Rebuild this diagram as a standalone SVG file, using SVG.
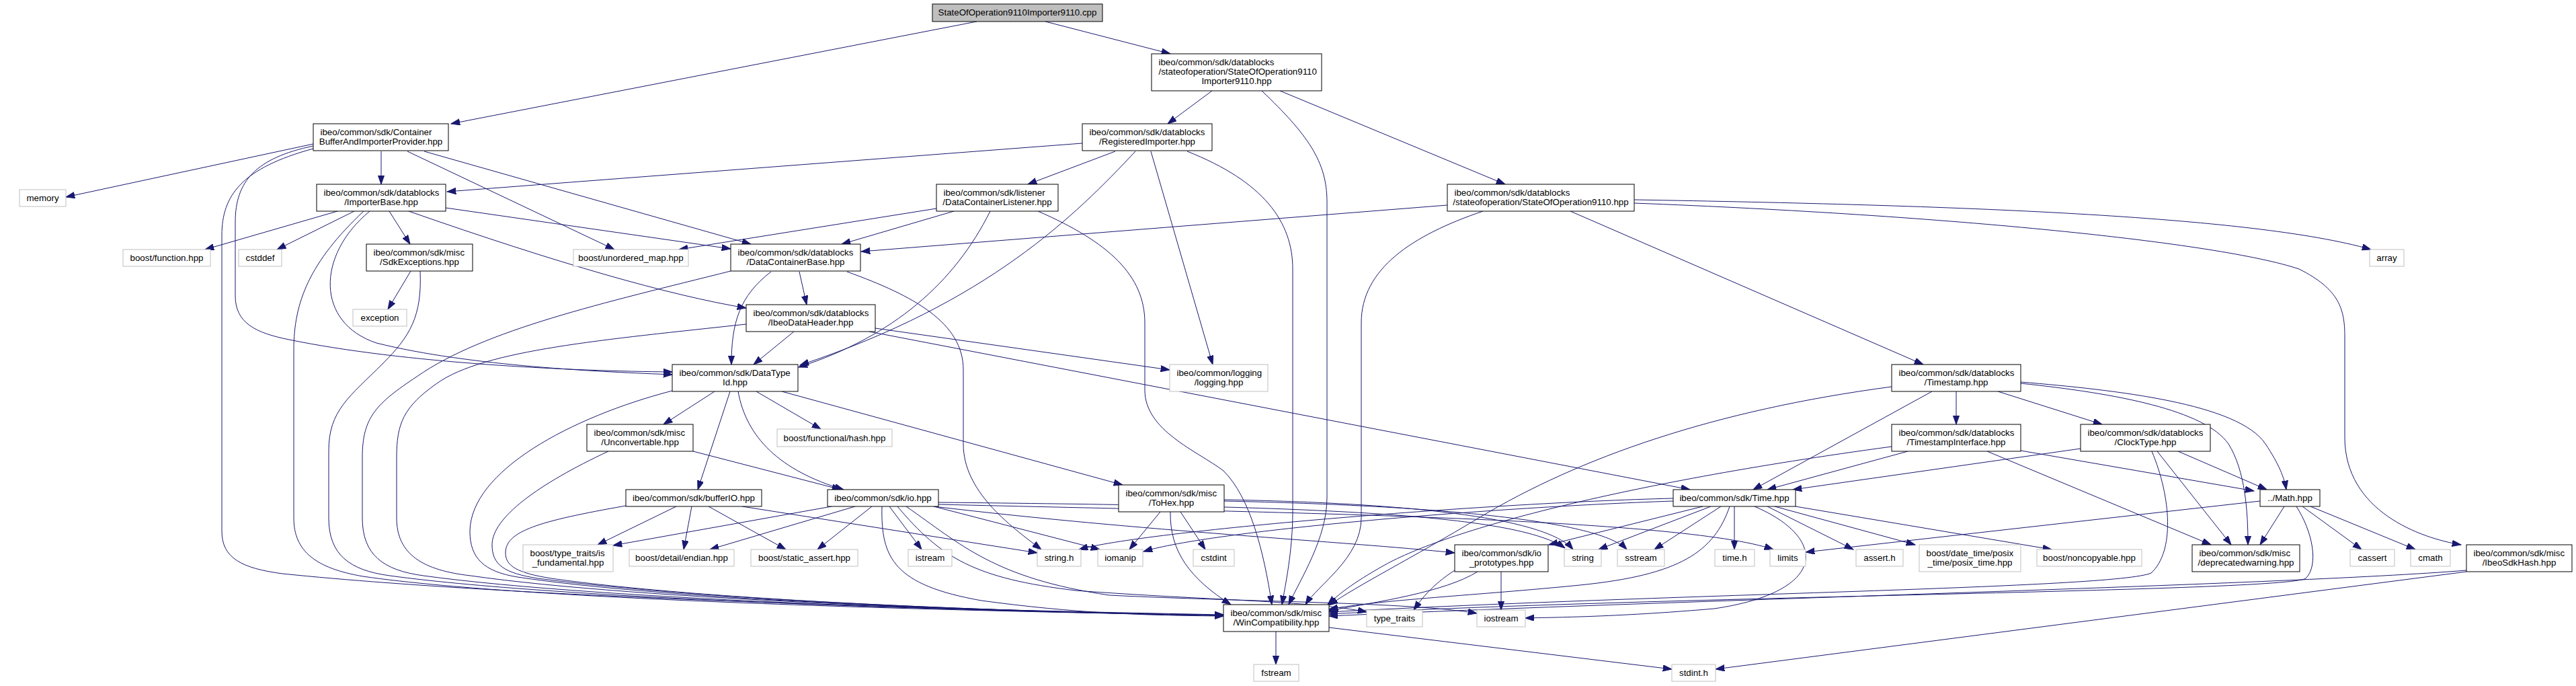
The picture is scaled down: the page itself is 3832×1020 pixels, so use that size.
<svg xmlns="http://www.w3.org/2000/svg" width="3832" height="1020" viewBox="0 0 3832 1020">
<style>
text{font-family:"Liberation Sans",Arial,Helvetica,sans-serif;font-size:13.33px;fill:#000}
.n rect{fill:#fff;stroke:#000;stroke-width:1}
.x rect{fill:#fff;stroke:#bfbfbf;stroke-width:1}
.m{text-anchor:middle}
#edges path{fill:none;stroke:#191970;stroke-width:1;marker-end:url(#a)}
</style>
<defs>
<marker id="a" markerUnits="userSpaceOnUse" markerWidth="14" markerHeight="10" refX="13.3" refY="4.7" orient="auto"><path d="M0,0 L13.3,4.7 L0,9.4 z" fill="#191970" stroke="#191970"/></marker>
</defs>
<rect width="3832" height="1020" fill="#fff"/>
<g id="edges">
<path d="M1453,32 L671,184"/>
<path d="M1555,32 L1741,80"/>
<path d="M1803,135 L1737,184"/>
<path d="M1904,135 L2239,274"/>
<path d="M1877,135 C1945,200 1974,240 1974,300 L1974,740 C1974,800 1935,860 1917,899"/>
<path d="M1610,213 L665,285"/>
<path d="M1659,225 L1529,274"/>
<path d="M1689,225 C1600,320 1470,450 1190,543"/>
<path d="M1712,225 L1804,542"/>
<path d="M1766,225 C1880,270 1923,330 1923,400 L1923,760 C1923,820 1912,870 1907,899"/>
<path d="M567,225 L567,274"/>
<path d="M606,225 L914,371"/>
<path d="M631,225 L1117,363"/>
<path d="M466,214 L98,293"/>
<path d="M466,217 C380,235 350,270 350,330 L350,440 C350,480 380,495 430,505 C600,540 850,552 1000,553"/>
<path d="M466,221 C360,250 330,290 330,350 L330,790 C330,830 360,845 420,853 C800,892 1500,908 1820,914"/>
<path d="M663,309 L1087,370"/>
<path d="M608,314 Q940,430 1110,458"/>
<path d="M579,314 L610,363"/>
<path d="M527,314 L412,371"/>
<path d="M502,314 L305,371"/>
<path d="M550,314 C470,380 470,480 560,510 C700,545 900,553 1000,557"/>
<path d="M541,314 C460,390 437,450 437,520 L437,770 C437,820 470,845 540,857 C800,895 1500,910 1820,915"/>
<path d="M625,403 C628,470 610,500 570,540 C520,590 489,610 489,670 L489,770 C489,825 520,848 580,856 C850,893 1500,910 1820,915"/>
<path d="M611,403 L577,460"/>
<path d="M1087,403 C900,450 720,490 620,560 C560,600 539,620 539,680 L539,770 C539,825 570,848 630,856 C900,893 1500,910 1820,915"/>
<path d="M1110,482 C900,505 720,520 650,570 C600,605 590,630 590,680 L590,770 C590,825 630,848 700,856 C950,892 1500,910 1820,915"/>
<path d="M1393,310 L1010,371"/>
<path d="M1419,314 L1252,363"/>
<path d="M1544,314 C1650,360 1703,410 1703,480 L1703,580 C1703,640 1780,670 1820,700 C1860,740 1880,820 1892,899"/>
<path d="M1473,314 C1420,420 1330,500 1188,546"/>
<path d="M1189,404 L1200,453"/>
<path d="M1147,404 C1100,440 1088,480 1088,542"/>
<path d="M1260,404 C1360,440 1433,480 1433,550 L1433,660 C1433,730 1500,780 1549,817"/>
<path d="M1181,493 L1121,542"/>
<path d="M1302,488 L1740,550"/>
<path d="M1293,493 L2514,728"/>
<path d="M1063,582 L987,631"/>
<path d="M1086,582 L1038,728"/>
<path d="M1098,582 C1110,650 1160,700 1255,728"/>
<path d="M1125,582 L1221,638"/>
<path d="M1163,582 L1670,721"/>
<path d="M1000,581 C850,620 700,700 699,790 C699,830 720,850 770,858 C1000,893 1500,910 1820,915"/>
<path d="M1031,671 L1251,728"/>
<path d="M905,671 C800,720 732,770 732,810 C732,840 750,852 800,860 C1050,893 1500,910 1820,915"/>
<path d="M931,752 C800,775 752,790 752,822 C752,842 770,852 820,860 C1050,893 1500,910 1820,915"/>
<path d="M1006,753 L889,810"/>
<path d="M1029,753 L1017,817"/>
<path d="M1054,753 L1169,817"/>
<path d="M1104,753 L1543,822"/>
<path d="M1237,753 L912,811"/>
<path d="M1272,753 L1056,817"/>
<path d="M1297,753 L1216,817"/>
<path d="M1323,753 L1371,817"/>
<path d="M1312,753 C1310,830 1330,870 1460,893 C1600,912 1700,915 1820,916"/>
<path d="M1335,753 C1400,830 1450,860 1600,878 C1800,893 1950,893 2033,910"/>
<path d="M1348,753 C1430,810 1480,860 1650,885 C1850,895 2100,895 2197,912"/>
<path d="M1389,753 L1636,817"/>
<path d="M1396,747 C1900,752 2250,760 2328,815"/>
<path d="M1396,750 C1900,762 2500,770 2638,817"/>
<path d="M1389,753 C1700,790 2000,805 2164,822"/>
<path d="M1726,761 L1680,817"/>
<path d="M1756,761 L1793,817"/>
<path d="M1741,761 C1740,820 1770,860 1831,899"/>
<path d="M1821,743 C2100,748 2300,770 2340,817"/>
<path d="M1821,745 C2150,752 2380,775 2420,817"/>
<path d="M2533,753 L2304,810"/>
<path d="M2545,753 L2378,817"/>
<path d="M2560,753 L2461,817"/>
<path d="M2580,753 L2580,817"/>
<path d="M2629,753 L2757,817"/>
<path d="M2640,753 L2849,810"/>
<path d="M2671,753 L3052,817"/>
<path d="M2573,753 C2550,820 2500,855 2350,870 C2200,885 2050,892 1977,906"/>
<path d="M2610,753 C2720,800 2720,880 2550,905 C2400,918 2300,918 2269,919"/>
<path d="M2489,745 C2200,755 1800,790 1701,820"/>
<path d="M2489,741 C2200,748 1700,790 1605,817"/>
<path d="M2910,582 L2910,631"/>
<path d="M2972,582 L3127,631"/>
<path d="M2874,582 L2608,728"/>
<path d="M2814,575 C2550,610 2350,680 2200,770 C2100,830 2020,870 1977,900"/>
<path d="M3006,568 C3150,580 3330,600 3370,660 C3390,690 3398,710 3401,728"/>
<path d="M3006,570 C3150,585 3280,610 3315,660 C3340,700 3344,760 3344,810"/>
<path d="M2838,671 L2629,728"/>
<path d="M2956,671 L3289,810"/>
<path d="M3006,670 L3353,730"/>
<path d="M2814,664 C2400,720 2150,790 2060,840 C2010,868 1990,885 1975,899"/>
<path d="M3095,667 L2667,728"/>
<path d="M3240,671 L3372,728"/>
<path d="M3209,671 L3319,810"/>
<path d="M3201,671 C3230,740 3235,820 3200,852 C3150,875 2500,882 1977,910"/>
<path d="M3398,753 L3362,810"/>
<path d="M3425,753 L3513,817"/>
<path d="M3437,753 L3593,817"/>
<path d="M3362,745 L2686,821"/>
<path d="M3416,753 C3440,790 3450,840 3430,860 C3400,880 2500,885 1977,913"/>
<path d="M3669,848 C3400,870 2500,892 1977,916"/>
<path d="M3669,850 L2552,995"/>
<path d="M2153,305 L1281,374"/>
<path d="M2206,314 C2100,350 2025,400 2025,480 L2025,770 C2025,830 1960,870 1942,899"/>
<path d="M2336,314 L2861,542"/>
<path d="M2431,297 C2900,305 3350,320 3527,371"/>
<path d="M2431,302 C2900,320 3300,360 3420,400 C3480,430 3488,460 3488,500 L3488,650 C3488,760 3600,800 3661,810"/>
<path d="M2164,848 C2130,870 2115,890 2103,907"/>
<path d="M2198,850 C2150,880 2050,895 1977,908"/>
<path d="M2233,850 L2233,907"/>
<path d="M1898,939 L1898,988"/>
<path d="M1977,933 L2487,995"/>
</g>
<g id="n_root" class="n"><rect x="1387" y="6" width="253" height="26" style="fill:#bfbfbf"/><text class="m" x="1513.5" y="23">StateOfOperation9110Importer9110.cpp</text></g>
<g id="n_container" class="n"><rect x="466" y="184" width="201" height="40"/><text x="476.5" y="201">ibeo/common/sdk/Container</text><text class="m" x="566.5" y="215">BufferAndImporterProvider.hpp</text></g>
<g id="n_importer9110" class="n"><rect x="1713" y="80" width="253" height="55"/><text x="1723.5" y="97">ibeo/common/sdk/datablocks</text><text x="1723.5" y="111">/stateofoperation/StateOfOperation9110</text><text class="m" x="1839.5" y="125">Importer9110.hpp</text></g>
<g id="n_registered" class="n"><rect x="1610" y="184" width="193" height="40"/><text x="1620.5" y="201">ibeo/common/sdk/datablocks</text><text class="m" x="1706.5" y="215">/RegisteredImporter.hpp</text></g>
<g id="n_importerbase" class="n"><rect x="471" y="274" width="192" height="40"/><text x="481.5" y="291">ibeo/common/sdk/datablocks</text><text class="m" x="567" y="305">/ImporterBase.hpp</text></g>
<g id="n_listener" class="n"><rect x="1393" y="274" width="181" height="40"/><text x="1403.5" y="291">ibeo/common/sdk/listener</text><text class="m" x="1483.5" y="305">/DataContainerListener.hpp</text></g>
<g id="n_sop9110" class="n"><rect x="2153" y="274" width="278" height="40"/><text x="2163.5" y="291">ibeo/common/sdk/datablocks</text><text class="m" x="2292" y="305">/stateofoperation/StateOfOperation9110.hpp</text></g>
<g id="n_memory" class="x"><rect x="29" y="282" width="69" height="25"/><text class="m" x="63.5" y="299">memory</text></g>
<g id="n_function" class="x"><rect x="183" y="371" width="130" height="25"/><text class="m" x="248" y="388">boost/function.hpp</text></g>
<g id="n_cstddef" class="x"><rect x="355" y="371" width="64" height="25"/><text class="m" x="387" y="388">cstddef</text></g>
<g id="n_sdkexceptions" class="n"><rect x="545" y="363" width="158" height="40"/><text x="555.5" y="380">ibeo/common/sdk/misc</text><text class="m" x="624" y="394">/SdkExceptions.hpp</text></g>
<g id="n_unordered_map" class="x"><rect x="853" y="371" width="171" height="25"/><text class="m" x="938.5" y="388">boost/unordered_map.hpp</text></g>
<g id="n_dcbase" class="n"><rect x="1087" y="363" width="193" height="40"/><text x="1097.5" y="380">ibeo/common/sdk/datablocks</text><text class="m" x="1183.5" y="394">/DataContainerBase.hpp</text></g>
<g id="n_array" class="x"><rect x="3525" y="371" width="51" height="25"/><text class="m" x="3550.5" y="388">array</text></g>
<g id="n_exception" class="x"><rect x="525" y="460" width="80" height="25"/><text class="m" x="565" y="477">exception</text></g>
<g id="n_ibeodataheader" class="n"><rect x="1110" y="453" width="192" height="40"/><text x="1120.5" y="470">ibeo/common/sdk/datablocks</text><text class="m" x="1206" y="484">/IbeoDataHeader.hpp</text></g>
<g id="n_datatypeid" class="n"><rect x="1000" y="542" width="187" height="40"/><text x="1010.5" y="559">ibeo/common/sdk/DataType</text><text class="m" x="1093.5" y="573">Id.hpp</text></g>
<g id="n_logging" class="x"><rect x="1740" y="542" width="146" height="40"/><text x="1750.5" y="559">ibeo/common/logging</text><text class="m" x="1813" y="573">/logging.hpp</text></g>
<g id="n_timestamp" class="n"><rect x="2814" y="542" width="192" height="40"/><text x="2824.5" y="559">ibeo/common/sdk/datablocks</text><text class="m" x="2910" y="573">/Timestamp.hpp</text></g>
<g id="n_unconvertable" class="n"><rect x="873" y="631" width="158" height="40"/><text x="883.5" y="648">ibeo/common/sdk/misc</text><text class="m" x="952" y="662">/Unconvertable.hpp</text></g>
<g id="n_hash" class="x"><rect x="1156" y="638" width="171" height="26"/><text class="m" x="1241.5" y="655.5">boost/functional/hash.hpp</text></g>
<g id="n_tsinterface" class="n"><rect x="2814" y="631" width="192" height="40"/><text x="2824.5" y="648">ibeo/common/sdk/datablocks</text><text class="m" x="2910" y="662">/TimestampInterface.hpp</text></g>
<g id="n_clocktype" class="n"><rect x="3095" y="631" width="193" height="40"/><text x="3105.5" y="648">ibeo/common/sdk/datablocks</text><text class="m" x="3191.5" y="662">/ClockType.hpp</text></g>
<g id="n_bufferio" class="n"><rect x="931" y="728" width="202" height="25"/><text class="m" x="1032" y="745">ibeo/common/sdk/bufferIO.hpp</text></g>
<g id="n_io" class="n"><rect x="1231" y="728" width="165" height="25"/><text class="m" x="1313.5" y="745">ibeo/common/sdk/io.hpp</text></g>
<g id="n_tohex" class="n"><rect x="1664" y="721" width="157" height="40"/><text x="1674.5" y="738">ibeo/common/sdk/misc</text><text class="m" x="1742.5" y="752">/ToHex.hpp</text></g>
<g id="n_time" class="n"><rect x="2489" y="728" width="182" height="25"/><text class="m" x="2580" y="745">ibeo/common/sdk/Time.hpp</text></g>
<g id="n_math" class="n"><rect x="3362" y="728" width="89" height="25"/><text class="m" x="3406.5" y="745">../Math.hpp</text></g>
<g id="n_isfundamental" class="x"><rect x="778" y="810" width="134" height="40"/><text x="788.5" y="827">boost/type_traits/is</text><text class="m" x="845" y="841">_fundamental.hpp</text></g>
<g id="n_endian" class="x"><rect x="936" y="817" width="156" height="25"/><text class="m" x="1014" y="834">boost/detail/endian.hpp</text></g>
<g id="n_staticassert" class="x"><rect x="1117" y="817" width="159" height="25"/><text class="m" x="1196.5" y="834">boost/static_assert.hpp</text></g>
<g id="n_istream" class="x"><rect x="1351" y="817" width="65" height="25"/><text class="m" x="1383.5" y="834">istream</text></g>
<g id="n_stringh" class="x"><rect x="1543" y="817" width="65" height="25"/><text class="m" x="1575.5" y="834">string.h</text></g>
<g id="n_iomanip" class="x"><rect x="1633" y="817" width="67" height="25"/><text class="m" x="1666.5" y="834">iomanip</text></g>
<g id="n_cstdint" class="x"><rect x="1775" y="817" width="61" height="25"/><text class="m" x="1805.5" y="834">cstdint</text></g>
<g id="n_ioprototypes" class="n"><rect x="2164" y="810" width="139" height="40"/><text x="2174.5" y="827">ibeo/common/sdk/io</text><text class="m" x="2233.5" y="841">_prototypes.hpp</text></g>
<g id="n_string" class="x"><rect x="2327" y="817" width="55" height="25"/><text class="m" x="2354.5" y="834">string</text></g>
<g id="n_sstream" class="x"><rect x="2406" y="817" width="70" height="25"/><text class="m" x="2441" y="834">sstream</text></g>
<g id="n_timeh" class="x"><rect x="2551" y="817" width="59" height="25"/><text class="m" x="2580.5" y="834">time.h</text></g>
<g id="n_limits" class="x"><rect x="2633" y="817" width="53" height="25"/><text class="m" x="2659.5" y="834">limits</text></g>
<g id="n_asserth" class="x"><rect x="2761" y="817" width="70" height="25"/><text class="m" x="2796" y="834">assert.h</text></g>
<g id="n_posixtime" class="x"><rect x="2855" y="810" width="151" height="40"/><text x="2865.5" y="827">boost/date_time/posix</text><text class="m" x="2930.5" y="841">_time/posix_time.hpp</text></g>
<g id="n_noncopyable" class="x"><rect x="3030" y="817" width="156" height="25"/><text class="m" x="3108" y="834">boost/noncopyable.hpp</text></g>
<g id="n_deprecated" class="n"><rect x="3261" y="810" width="160" height="40"/><text x="3271.5" y="827">ibeo/common/sdk/misc</text><text class="m" x="3341" y="841">/deprecatedwarning.hpp</text></g>
<g id="n_cassert" class="x"><rect x="3496" y="817" width="66" height="25"/><text class="m" x="3529" y="834">cassert</text></g>
<g id="n_cmath" class="x"><rect x="3586" y="817" width="59" height="25"/><text class="m" x="3615.5" y="834">cmath</text></g>
<g id="n_ibeosdkhash" class="n"><rect x="3669" y="810" width="157" height="40"/><text x="3679.5" y="827">ibeo/common/sdk/misc</text><text class="m" x="3747.5" y="841">/IbeoSdkHash.hpp</text></g>
<g id="n_wincompat" class="n"><rect x="1820" y="899" width="157" height="40"/><text x="1830.5" y="916">ibeo/common/sdk/misc</text><text class="m" x="1898.5" y="930">/WinCompatibility.hpp</text></g>
<g id="n_typetraits" class="x"><rect x="2033" y="907" width="83" height="25"/><text class="m" x="2074.5" y="924">type_traits</text></g>
<g id="n_iostream" class="x"><rect x="2197" y="907" width="72" height="25"/><text class="m" x="2233" y="924">iostream</text></g>
<g id="n_fstream" class="x"><rect x="1865" y="988" width="67" height="25"/><text class="m" x="1898.5" y="1005">fstream</text></g>
<g id="n_stdinth" class="x"><rect x="2487" y="988" width="65" height="25"/><text class="m" x="2519.5" y="1005">stdint.h</text></g>
</svg>
